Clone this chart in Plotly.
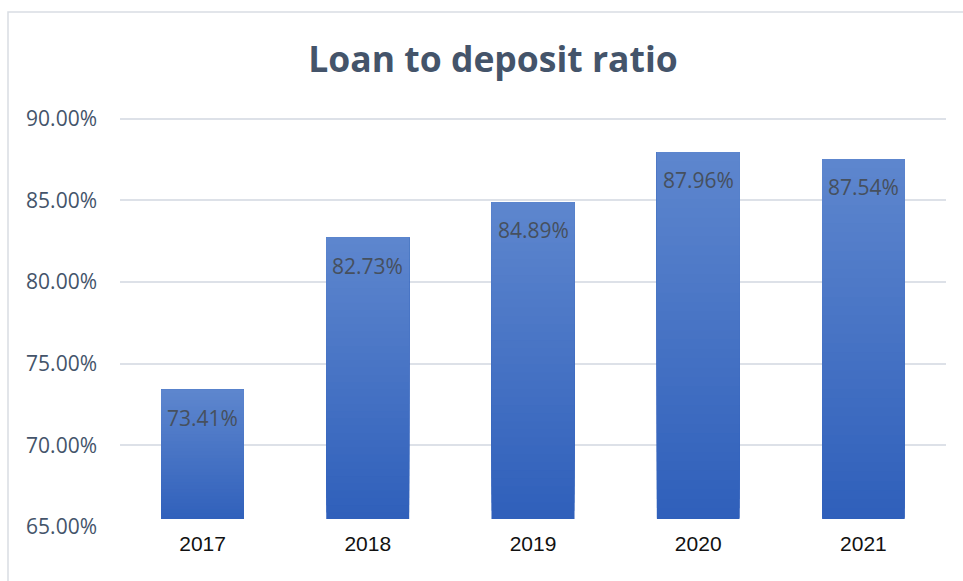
import plotly.graph_objects as go

# Loan-to-deposit ratio by year (percent)
years = ["2017", "2018", "2019", "2020", "2021"]
ratios = [73.41, 82.73, 84.89, 87.96, 87.54]
y_ticks = [65, 70, 75, 80, 85, 90]
y_tick_labels = [f"{v:.2f}%" for v in y_ticks]
axis_floor = 65

TEXT_COLOR = "#44546A"
LABEL_COLOR = "#46505E"
GRID_COLOR = "#DDE1E8"
BAR_TOP = (94, 134, 206)
BAR_BOTTOM = (46, 95, 186)
N_BANDS = 40

fig = go.Figure()

# each bar is filled with a vertical gradient: overlapping layers, each one
# starting a little higher and running up to the bar's value
for k in range(N_BANDS):
    t = (k + 0.5) / N_BANDS
    rgb = tuple(round(b + (a - b) * t) for a, b in zip(BAR_TOP, BAR_BOTTOM))
    starts = [axis_floor + k * (v - axis_floor) / N_BANDS for v in ratios]
    fig.add_trace(go.Bar(
        x=years,
        y=[v - s for v, s in zip(ratios, starts)],
        base=starts,
        width=0.5,
        marker=dict(color="rgb(%d,%d,%d)" % rgb, line=dict(width=0)),
        hoverinfo="skip",
    ))

# value labels just inside the top of each bar (category index positions)
for i, v in enumerate(ratios):
    fig.add_annotation(
        x=i, y=v, text=f"{v:.2f}%", showarrow=False,
        yanchor="middle", yshift=-28,
        font=dict(family="Open Sans", size=21, color=LABEL_COLOR),
    )

# chart frame (top and left edges)
fig.add_shape(type="rect", xref="paper", yref="paper",
              x0=-0.1356, x1=1.2, y0=-0.3, y1=1.232,
              line=dict(color="#D9DDE3", width=1.5), fillcolor="rgba(0,0,0,0)",
              layer="below")

# blank strip separating the bars from the category labels
fig.add_shape(type="rect", xref="paper", yref="paper",
              x0=0.041, x1=0.988, y0=-0.006, y1=0.019,
              line=dict(width=0), fillcolor="white", layer="above")

fig.update_layout(
    width=963, height=581,
    margin=dict(l=120, r=17, t=109, b=54),
    paper_bgcolor="white", plot_bgcolor="white",
    showlegend=False,
    barmode="overlay",
    title=dict(
        text="<b>Loan to deposit ratio</b>",
        x=493 / 963, xref="container", xanchor="center",
        y=1 - 60 / 581, yref="container", yanchor="middle",
        font=dict(family="Open Sans", size=35.5, color=TEXT_COLOR),
    ),
    xaxis=dict(
        type="category", range=[-0.5, len(years) - 0.5],
        showgrid=False, zeroline=False, showline=False, ticks="",
        ticklabelstandoff=2,
        tickfont=dict(family="Liberation Sans, Arial", size=21, color="#111111"),
    ),
    yaxis=dict(
        range=[65, 90.6],
        tickvals=y_ticks, ticktext=y_tick_labels,
        showgrid=True, gridcolor=GRID_COLOR, gridwidth=1.5,
        zeroline=False, showline=False,
        ticks="", ticklabelstandoff=22,
        tickfont=dict(family="Open Sans", size=21, color=TEXT_COLOR),
    ),
)

fig.write_html("out.html")
